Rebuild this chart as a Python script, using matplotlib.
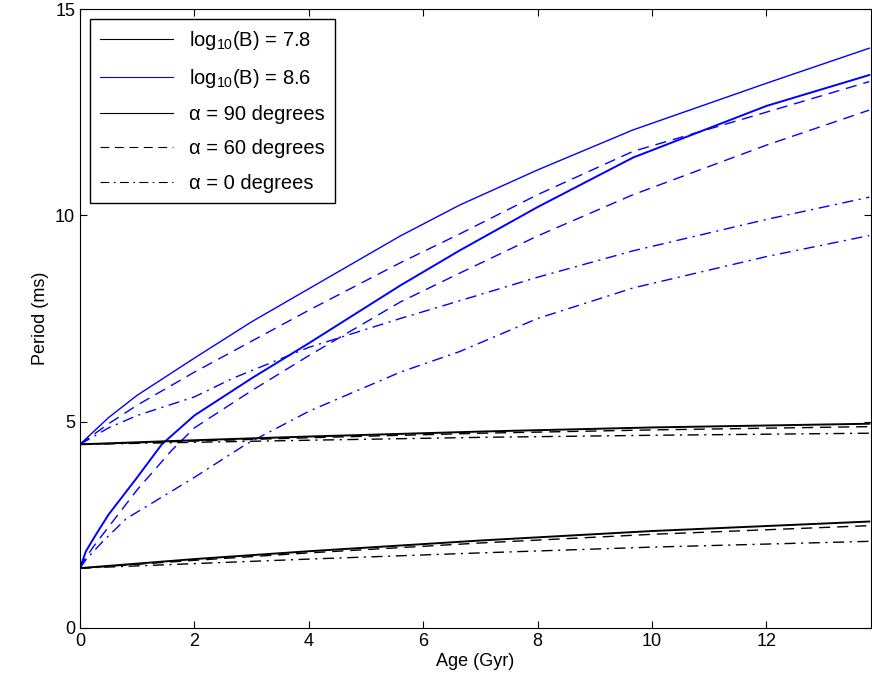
import matplotlib
matplotlib.use('Agg')
import matplotlib.pyplot as plt

plt.rcParams['font.family'] = ['Liberation Sans', 'DejaVu Sans']
plt.rcParams['font.size'] = 13

# Blue: log10(B) = 8.6
hi_sol_x = [0, 0.5, 1, 2, 3, 4, 5.6, 6.64, 8, 9.67, 12, 13.8]
hi_sol_y = [4.45, 5.1, 5.64, 6.54, 7.42, 8.22, 9.5, 10.25, 11.1, 12.07, 13.2, 14.05]
hi_das_x = [0, 0.5, 1, 2, 3, 4, 5.6, 6.64, 8, 9.67, 12, 13.8]
hi_das_y = [4.45, 4.95, 5.4, 6.2, 6.95, 7.7, 8.85, 9.55, 10.5, 11.55, 12.5, 13.24]
hi_dd_x = [0, 0.5, 1, 2, 2.67, 4, 5.6, 6.64, 8, 9.67, 12, 13.8]
hi_dd_y = [4.45, 4.85, 5.15, 5.6, 6.05, 6.8, 7.5, 7.93, 8.5, 9.14, 9.9, 10.44]
lo_sol_x = [0, 0.1, 0.25, 0.5, 1, 1.43, 2, 3, 4, 5.6, 6.64, 8, 9.67, 12, 13.8]
lo_sol_y = [1.45, 1.85, 2.2, 2.75, 3.65, 4.45, 5.15, 6.05, 6.9, 8.3, 9.15, 10.2, 11.4, 12.65, 13.4]
lo_das_x = [0, 0.1, 0.25, 0.5, 1, 1.6, 2, 3, 4, 5.6, 6.64, 8, 9.67, 12, 13.8]
lo_das_y = [1.45, 1.7, 2.0, 2.45, 3.35, 4.3, 4.85, 5.75, 6.6, 7.9, 8.6, 9.5, 10.5, 11.7, 12.55]
lo_dd_x = [0, 0.1, 0.4, 0.81, 2, 2.9, 4, 5.6, 6.64, 8, 9.67, 12, 13.8]
lo_dd_y = [1.45, 1.65, 2.1, 2.65, 3.65, 4.45, 5.25, 6.2, 6.7, 7.5, 8.24, 9.0, 9.51]

# Black: log10(B) = 7.8
age = [0, 2, 4, 7, 10, 13.8]
b_hi_sol = [4.45, 4.55, 4.64, 4.76, 4.86, 4.95]
b_hi_das = [4.45, 4.53, 4.61, 4.72, 4.8, 4.88]
b_hi_dd = [4.45, 4.5, 4.55, 4.62, 4.67, 4.72]
b_lo_sol = [1.45, 1.67, 1.86, 2.12, 2.35, 2.58]
b_lo_das = [1.45, 1.64, 1.82, 2.06, 2.27, 2.48]
b_lo_dd = [1.45, 1.56, 1.67, 1.82, 1.96, 2.1]

fig = plt.figure(figsize=(8.72, 6.97), dpi=100)
ax = fig.add_axes([80 / 872, 1 - 628 / 697, 791 / 872, 619 / 697])

blue = '#0000ff'
dash = (0, (8, 5))
dashdot = (0, (8, 4, 1.5, 4))
ax.plot(hi_sol_x, hi_sol_y, color=blue, lw=1)
ax.plot(hi_das_x, hi_das_y, color=blue, lw=1, ls=dash)
ax.plot(hi_dd_x, hi_dd_y, color=blue, lw=1, ls=dashdot)
ax.plot(lo_sol_x, lo_sol_y, color=blue, lw=1.4)
ax.plot(lo_das_x, lo_das_y, color=blue, lw=1, ls=dash)
ax.plot(lo_dd_x, lo_dd_y, color=blue, lw=1, ls=dashdot)

ax.plot(age, b_hi_sol, color='k', lw=1.4)
ax.plot(age, b_hi_das, color='k', lw=1, ls=dash)
ax.plot(age, b_hi_dd, color='k', lw=1, ls=dashdot)
ax.plot(age, b_lo_sol, color='k', lw=1.4)
ax.plot(age, b_lo_das, color='k', lw=1, ls=dash)
ax.plot(age, b_lo_dd, color='k', lw=1, ls=dashdot)

# legend handles
h = [
    ax.plot([], [], color='k', lw=0.8, label=r'log$_{\mathregular{10}}$(B) = 7.8')[0],
    ax.plot([], [], color=blue, lw=0.8, label=r'log$_{\mathregular{10}}$(B) = 8.6')[0],
    ax.plot([], [], color='k', lw=0.8, label='α = 90 degrees')[0],
    ax.plot([], [], color='k', lw=0.8, ls=dash, label='α = 60 degrees')[0],
    ax.plot([], [], color='k', lw=0.8, ls=dashdot, label='α = 0 degrees')[0],
]
leg = ax.legend(handles=h, loc='upper left', fancybox=False, framealpha=1,
                edgecolor='k', fontsize=14.5, handlelength=3.6, borderaxespad=0.5,
                labelspacing=0.75, borderpad=0.5)
leg.get_frame().set_linewidth(1)

ax.set_xlim(0, 13.83)
ax.set_ylim(0, 15)
ax.set_xticks([0, 2, 4, 6, 8, 10, 12])
ax.set_yticks([0, 5, 10, 15])
ax.tick_params(direction='in', top=True, right=True, length=5, labelsize=13)
ax.set_xlabel('Age (Gyr)', fontsize=13, labelpad=2)
ax.set_ylabel('Period (ms)', fontsize=13)

fig.savefig('out.png', dpi=100, facecolor='white')
